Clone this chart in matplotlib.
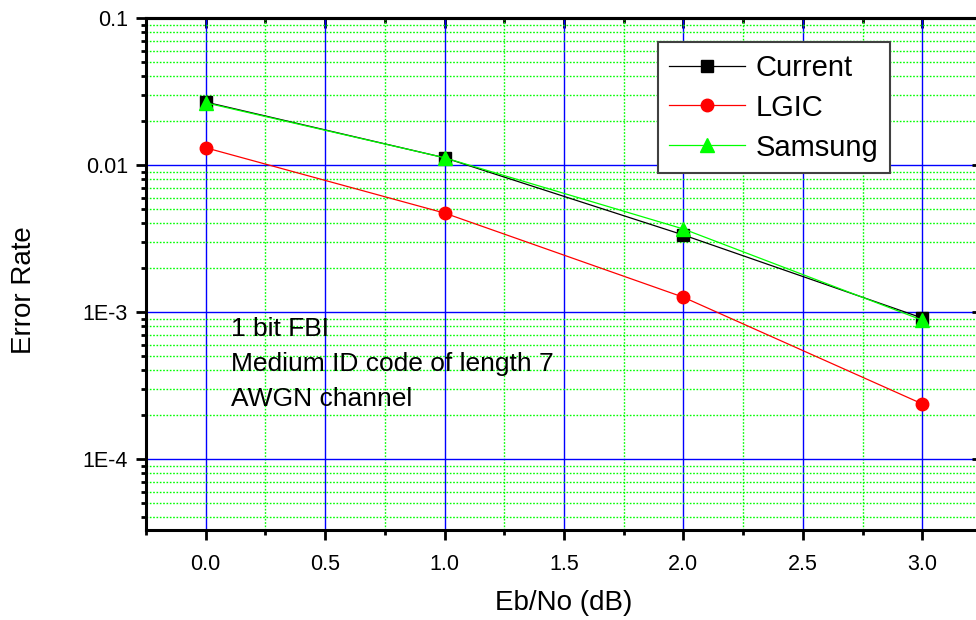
import numpy as np
import matplotlib
matplotlib.use('Agg')
import matplotlib.pyplot as plt
from matplotlib.ticker import FixedLocator, FixedFormatter, MultipleLocator, LogLocator, NullFormatter

plt.rcParams['font.family'] = ['Liberation Sans', 'DejaVu Sans']
plt.rcParams['xtick.labelsize'] = 15.5
plt.rcParams['ytick.labelsize'] = 15.5

ebno = [0.0, 1.0, 2.0, 3.0]
current = [0.0268, 0.0112, 0.00334, 0.00091]
lgic = [0.0131, 0.00471, 0.00126, 0.000237]
samsung = [0.0265, 0.0112, 0.00367, 0.00088]

xtick_vals = [0, 0.5, 1, 1.5, 2, 2.5, 3]
xtick_labels = ['0.0', '0.5', '1.0', '1.5', '2.0', '2.5', '3.0']
ytick_vals = [1e-4, 1e-3, 1e-2, 1e-1]
ytick_labels = ['1E-4', '1E-3', '0.01', '0.1']
notes = ['1 bit FBI', 'Medium ID code of length 7', 'AWGN channel']

fig = plt.figure(figsize=(9.76, 6.2), dpi=100)
ax = fig.add_axes([146 / 976, 90 / 620, 836 / 976, 512 / 620])

ax.plot(ebno, current, color='black', lw=0.9, marker='s', ms=9, label='Current', zorder=4)
ax.plot(ebno, lgic, color='red', lw=0.9, marker='o', ms=9, label='LGIC', zorder=4)
ax.plot(ebno, samsung, color='#00ff00', lw=0.9, marker='^', ms=10, label='Samsung', zorder=5)

ax.set_yscale('log')
ax.set_xlim(-0.25, 3.25)
ax.set_ylim(10 ** -4.483, 0.1)

ax.set_xticks(xtick_vals)
ax.set_xticklabels(xtick_labels)
ax.xaxis.set_minor_locator(MultipleLocator(0.25))

ax.yaxis.set_major_locator(FixedLocator(ytick_vals))
ax.yaxis.set_major_formatter(FixedFormatter(ytick_labels))
ax.yaxis.set_minor_locator(LogLocator(base=10, subs=np.arange(2, 10)))
ax.yaxis.set_minor_formatter(NullFormatter())

ax.grid(which='major', color='blue', lw=1.0, ls='-', zorder=1)
ax.grid(which='minor', color='#00ff00', lw=1.0, ls=(0, (1.2, 1.2)), zorder=0)
ax.set_axisbelow(True)

for s in ax.spines.values():
    s.set_linewidth(2.2)

ax.tick_params(which='major', width=2, length=7)
ax.tick_params(which='minor', width=2, length=3.5)
ax.tick_params(which='both', direction='out', top=False, right=False)
ax.tick_params(axis='y', which='major', pad=6)
ax.tick_params(axis='x', which='major', pad=10)

# top and right ticks point inwards
ax2 = ax.secondary_xaxis('top')
ax2.set_xticks(xtick_vals)
ax2.xaxis.set_minor_locator(MultipleLocator(0.25))
ax2.tick_params(which='both', direction='in', labeltop=False, width=2)
ax2.tick_params(which='major', length=7)
ax2.tick_params(which='minor', length=3.5)
ax2.spines['top'].set_linewidth(2.2)

ax3 = ax.secondary_yaxis('right')
ax3.yaxis.set_major_locator(FixedLocator(ytick_vals))
ax3.yaxis.set_minor_locator(LogLocator(base=10, subs=np.arange(2, 10)))
ax3.tick_params(which='both', direction='in', labelright=False, width=2)
ax3.tick_params(which='major', length=7)
ax3.tick_params(which='minor', length=3.5)
ax3.set_zorder(3)

fig.text(564 / 976, 1 - 603 / 620, 'Eb/No (dB)', fontsize=20, ha='center', va='center')
fig.text(24 / 976, 1 - 290 / 620, 'Error Rate', fontsize=20, ha='center', va='center',
         rotation=90)

for i, line in enumerate(notes):
    ax.text(0.102, 0.393 - i * 0.0684, line, transform=ax.transAxes,
            fontsize=19, va='center', ha='left', zorder=6)

leg = ax.legend(loc='upper left', bbox_to_anchor=(0.612, 0.953), borderaxespad=0,
                fontsize=21, handlelength=2.6, handletextpad=0.36, labelspacing=0.41,
                borderpad=0.4, fancybox=False, framealpha=1, edgecolor='#404040')
leg.get_frame().set_linewidth(1.5)
leg.set_zorder(10)

fig.savefig('out.png', dpi=100)
